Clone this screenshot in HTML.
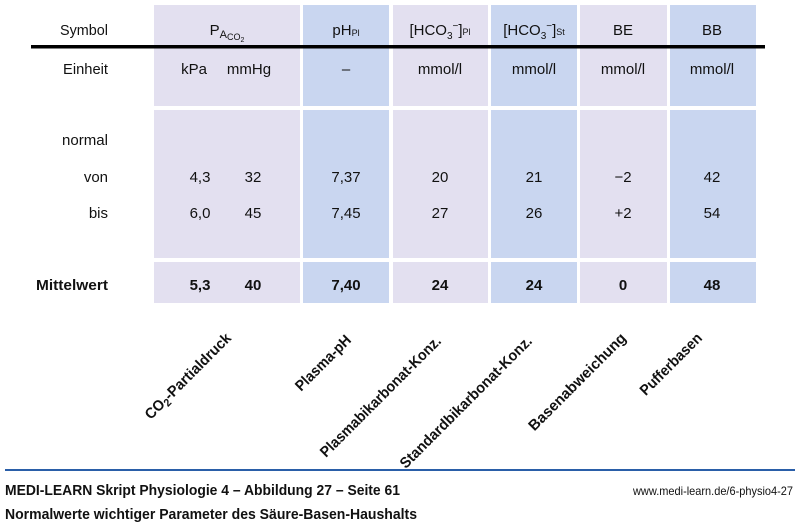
<!DOCTYPE html>
<html><head><meta charset="utf-8"><style>
html,body{margin:0;padding:0;background:#fff;width:800px;height:525px;overflow:hidden}
svg{display:block}
text{font-family:"Liberation Sans",sans-serif;font-size:15px;fill:#111}
.b{font-weight:bold}
</style></head><body>
<svg width="800" height="525" viewBox="0 0 800 525">
<g>
<rect x="154" y="5" width="146" height="101" fill="#e3e0f0"/>
<rect x="303" y="5" width="86" height="101" fill="#c9d6f0"/>
<rect x="393" y="5" width="95" height="101" fill="#e3e0f0"/>
<rect x="491" y="5" width="86" height="101" fill="#c9d6f0"/>
<rect x="580" y="5" width="87" height="101" fill="#e3e0f0"/>
<rect x="670" y="5" width="86" height="101" fill="#c9d6f0"/>

<rect x="154" y="110" width="146" height="148" fill="#e3e0f0"/>
<rect x="303" y="110" width="86" height="148" fill="#c9d6f0"/>
<rect x="393" y="110" width="95" height="148" fill="#e3e0f0"/>
<rect x="491" y="110" width="86" height="148" fill="#c9d6f0"/>
<rect x="580" y="110" width="87" height="148" fill="#e3e0f0"/>
<rect x="670" y="110" width="86" height="148" fill="#c9d6f0"/>

<rect x="154" y="262" width="146" height="41" fill="#e3e0f0"/>
<rect x="303" y="262" width="86" height="41" fill="#c9d6f0"/>
<rect x="393" y="262" width="95" height="41" fill="#e3e0f0"/>
<rect x="491" y="262" width="86" height="41" fill="#c9d6f0"/>
<rect x="580" y="262" width="87" height="41" fill="#e3e0f0"/>
<rect x="670" y="262" width="86" height="41" fill="#c9d6f0"/>
</g>
<rect x="31" y="45" width="734" height="3.5" fill="#000"/>

<g text-anchor="end">
<text x="108" y="35" textLength="48" lengthAdjust="spacingAndGlyphs">Symbol</text>
<text x="108" y="74" textLength="45" lengthAdjust="spacingAndGlyphs">Einheit</text>
<text x="108" y="145" textLength="46" lengthAdjust="spacingAndGlyphs">normal</text>
<text x="108" y="182">von</text>
<text x="108" y="218">bis</text>
<text x="108" y="290" class="b" textLength="72" lengthAdjust="spacingAndGlyphs">Mittelwert</text>
</g>

<g text-anchor="middle">
<text x="227" y="35">P<tspan font-size="11" dy="3">A</tspan><tspan font-size="9" dy="2">CO</tspan><tspan font-size="7" dy="2">2</tspan></text>
<text x="346" y="35">pH<tspan font-size="9" dy="1">Pl</tspan></text>
<text x="440" y="35">[HCO<tspan font-size="10" dy="4">3</tspan><tspan font-size="10" dy="-10">−</tspan><tspan dy="6">]</tspan><tspan font-size="9" dy="0">Pl</tspan></text>
<text x="534" y="35">[HCO<tspan font-size="10" dy="4">3</tspan><tspan font-size="10" dy="-10">−</tspan><tspan dy="6">]</tspan><tspan font-size="9" dy="0">St</tspan></text>
<text x="623" y="35">BE</text>
<text x="712" y="35">BB</text>

<text x="194" y="74">kPa</text>
<text x="249" y="74">mmHg</text>
<text x="346" y="74">–</text>
<text x="440" y="74">mmol/l</text>
<text x="534" y="74">mmol/l</text>
<text x="623" y="74">mmol/l</text>
<text x="712" y="74">mmol/l</text>

<text x="200" y="182">4,3</text><text x="253" y="182">32</text>
<text x="346" y="182">7,37</text><text x="440" y="182">20</text><text x="534" y="182">21</text><text x="623" y="182">−2</text><text x="712" y="182">42</text>
<text x="200" y="218">6,0</text><text x="253" y="218">45</text>
<text x="346" y="218">7,45</text><text x="440" y="218">27</text><text x="534" y="218">26</text><text x="623" y="218">+2</text><text x="712" y="218">54</text>

<text x="200" y="290" class="b">5,3</text><text x="253" y="290" class="b">40</text>
<text x="346" y="290" class="b">7,40</text><text x="440" y="290" class="b">24</text><text x="534" y="290" class="b">24</text><text x="623" y="290" class="b">0</text><text x="712" y="290" class="b">48</text>
</g>

<g text-anchor="end">
<text class="b" transform="translate(232,339) rotate(-45)" textLength="115" lengthAdjust="spacingAndGlyphs">CO<tspan font-size="11" dy="3">2</tspan><tspan dy="-3">-Partialdruck</tspan></text>
<text class="b" transform="translate(352,341) rotate(-45)" textLength="72" lengthAdjust="spacingAndGlyphs">Plasma-pH</text>
<text class="b" transform="translate(442,342) rotate(-45)" textLength="164" lengthAdjust="spacingAndGlyphs">Plasmabikarbonat-Konz.</text>
<text class="b" transform="translate(533,342) rotate(-45)" textLength="180" lengthAdjust="spacingAndGlyphs">Standardbikarbonat-Konz.</text>
<text class="b" transform="translate(627,339) rotate(-45)" textLength="131" lengthAdjust="spacingAndGlyphs">Basenabweichung</text>
<text class="b" transform="translate(703,339) rotate(-45)" textLength="81" lengthAdjust="spacingAndGlyphs">Pufferbasen</text>
</g>

<rect x="5" y="469" width="790" height="2" fill="#2a5ea8"/>
<text x="5" y="495" class="b" style="font-size:15px" textLength="395" lengthAdjust="spacingAndGlyphs">MEDI-LEARN Skript Physiologie 4 – Abbildung 27 – Seite 61</text>
<text x="793" y="495" text-anchor="end" style="font-size:12px" textLength="160" lengthAdjust="spacingAndGlyphs">www.medi-learn.de/6-physio4-27</text>
<text x="5" y="519" class="b" style="font-size:15px" textLength="412" lengthAdjust="spacingAndGlyphs">Normalwerte wichtiger Parameter des Säure-Basen-Haushalts</text>
</svg>
</body></html>
